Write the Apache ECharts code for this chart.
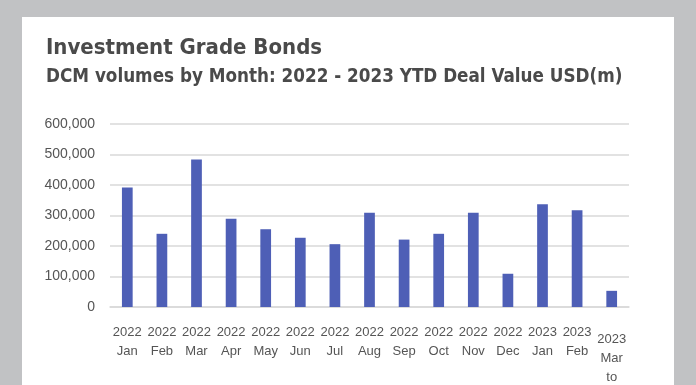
<!DOCTYPE html>
<html><head><meta charset="utf-8">
<script src="https://cdn.jsdelivr.net/npm/echarts@6/dist/echarts.min.js"></script>
<style>html,body{margin:0;padding:0;background:#c1c2c4;}#c{width:696px;height:385px;}</style>
</head><body><div id="c"></div>
<script>
const categories = ['2022\nJan','2022\nFeb','2022\nMar','2022\nApr','2022\nMay','2022\nJun','2022\nJul','2022\nAug','2022\nSep','2022\nOct','2022\nNov','2022\nDec','2023\nJan','2023\nFeb','2023\nMar\nto\ndate'];
const values = [392000,240000,484000,289000,255000,227000,206000,309000,221000,240000,309000,109000,337000,317000,53000];
const yTicks = [0,100000,200000,300000,400000,500000,600000];

const titleFont = "'DejaVu Sans Condensed','Liberation Sans Narrow',sans-serif";
const chart = echarts.init(document.getElementById('c'), null, {renderer:'canvas'});
chart.setOption({
  backgroundColor:'#c1c2c4',
  animation:false,
  graphic:[{type:'rect', z:-10, shape:{x:22,y:17,width:652,height:400}, style:{fill:'#ffffff'}}],
  title:[
    {text:'Investment Grade Bonds', left:41, top:32,
     textStyle:{fontFamily:titleFont, fontWeight:'bold', fontSize:22, color:'#4a4a4a'}},
    {text:'DCM volumes by Month: 2022 - 2023 YTD Deal Value USD(m)', left:41, top:63,
     textStyle:{fontFamily:titleFont, fontWeight:'bold', fontSize:18.7, color:'#4a4a4a'}}
  ],
  grid:{left:110, right:67, top:124, bottom:78, containLabel:false, outerBoundsMode:'none'},
  xAxis:{type:'category', data:categories,
    axisLine:{lineStyle:{color:'#d9d9d9', width:1.5}},
    axisTick:{show:false},
    axisLabel:{interval:0, margin:16, color:'#555555', fontFamily:'Liberation Sans', fontSize:13, lineHeight:19,
      formatter:function(v, i){ return i === categories.length-1 ? '{s| }\n' + v : v; },
      rich:{s:{lineHeight:7, fontSize:7}}}
  },
  yAxis:{type:'value', min:yTicks[0], max:yTicks[yTicks.length-1], interval:100000,
    axisLine:{show:false}, axisTick:{show:false},
    splitLine:{lineStyle:{color:'#d9d9d9', width:1.5}},
    axisLabel:{margin:15, color:'#555555', fontFamily:'Liberation Sans', fontSize:14,
      formatter:function(v){ return v.toLocaleString('en-US'); }}
  },
  series:[{type:'bar', data:values, barWidth:'31%', itemStyle:{color:'#4e5fb6'}}]
});
</script></body></html>
